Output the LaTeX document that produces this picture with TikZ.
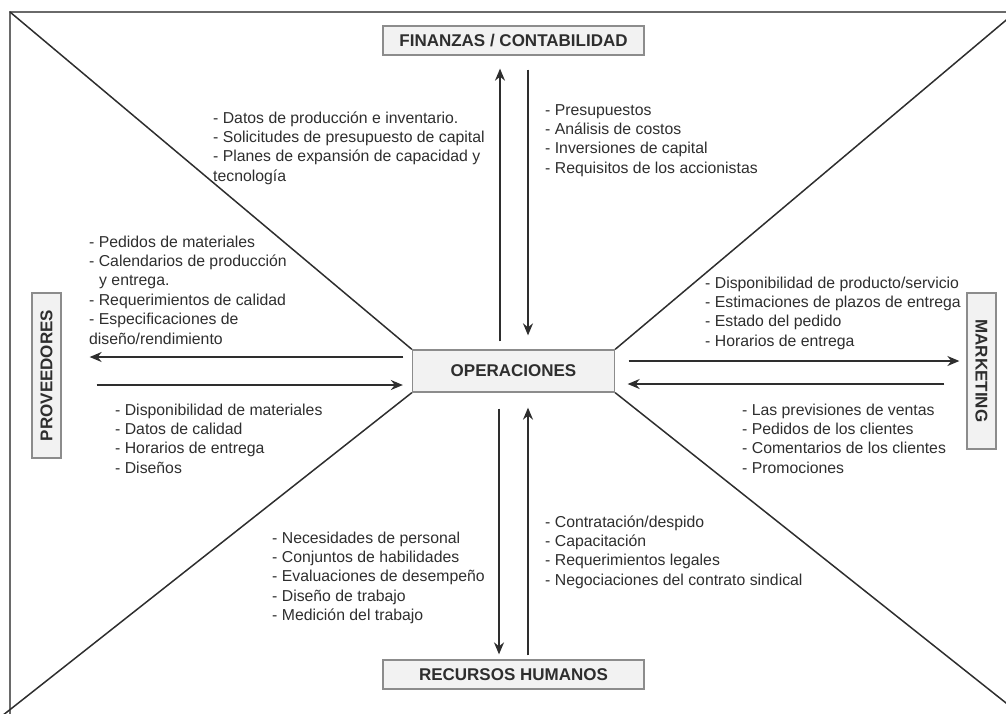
\documentclass[tikz,border=0pt]{standalone}
\usepackage{fontspec}
\setmainfont{Liberation Sans}
\usetikzlibrary{arrows.meta}

\definecolor{ink}{HTML}{2E2E2E}
\definecolor{rim}{HTML}{8C8C8C}
\definecolor{boxfill}{HTML}{F2F2F2}
\definecolor{framegray}{HTML}{6A6A6A}

\tikzset{
  head/.style={draw=rim, fill=boxfill, line width=1.3pt, text=ink,
    font=\fontsize{17}{20}\selectfont\bfseries, inner sep=0pt},
  note/.style={anchor=north west, align=left, inner sep=0pt, text=ink,
    font=\fontsize{15.8}{19.4}\selectfont},
  diag/.style={draw=ink, line width=1.5pt},
  framel/.style={draw=framegray, line width=2pt},
  flow/.style={draw=ink, line width=1.5pt, -{Stealth[length=12pt,width=10pt]}}
}

\begin{document}
\begin{tikzpicture}[x=1pt,y=-1pt]
\useasboundingbox (0,0) rectangle (1006,713);
\clip (0,0) rectangle (1006,713);

% outer frame corners and free ends of the diagonals
\coordinate (ctl) at (10,12);
\coordinate (fbl) at (10,730);
\coordinate (ftr) at (1030,12);
\coordinate (ctr) at (1030,0);
\coordinate (cbr) at (1030,722);
\coordinate (cbl) at (0,717.5);

% central and outer boxes
\node[head, minimum width=202pt, minimum height=42pt] (ops) at (513.5,371) {OPERACIONES};
\node[head, minimum width=261pt, minimum height=29pt] (fin) at (513.5,40.5) {FINANZAS / CONTABILIDAD};
\node[head, minimum width=261pt, minimum height=29pt] (hr) at (513.5,674.5) {RECURSOS HUMANOS};
\node[head, rotate=90, minimum width=165pt, minimum height=29pt] (prov) at (46.5,375.5) {PROVEEDORES};
\node[head, rotate=-90, minimum width=156pt, minimum height=29pt] (mkt) at (981.5,371) {MARKETING};

% frame and diagonals
\draw[framel] (fbl) -- (ctl) -- (ftr);
\draw[diag] (ctl) -- (ops.north west);
\draw[diag] (ctr) -- (ops.north east);
\draw[diag] (cbr) -- (ops.south east);
\draw[diag] (cbl) -- (ops.south west);

% vertical flows
\draw[flow] ([xshift=-13.5pt,yshift=8pt]ops.north) -- ([xshift=-13.5pt,yshift=-13pt]fin.south);
\draw[flow] ([xshift=14.5pt,yshift=-14pt]fin.south) -- ([xshift=14.5pt,yshift=14pt]ops.north);
\draw[flow] ([xshift=-14.5pt,yshift=-16pt]ops.south) -- ([xshift=-14.5pt,yshift=5pt]hr.north);
\draw[flow] ([xshift=14.5pt,yshift=4pt]hr.north) -- ([xshift=14.5pt,yshift=-15pt]ops.south);

% horizontal flows
\draw[flow] ([xshift=-8.5pt,yshift=14pt]ops.west) -- ([xshift=28pt,yshift=18.5pt]prov.south);
\draw[flow] ([xshift=35pt,yshift=-9.5pt]prov.south) -- ([xshift=-9pt,yshift=-14pt]ops.west);
\draw[flow] ([xshift=13.5pt,yshift=10pt]ops.east) -- ([xshift=-7pt,yshift=10pt]mkt.south);
\draw[flow] ([xshift=-22pt,yshift=-13pt]mkt.south) -- ([xshift=12.5pt,yshift=-13pt]ops.east);

% information lists
\node[note] (t1) at (213,109.3) {\strut- Datos de producción e inventario.\\- Solicitudes de presupuesto de capital\\- Planes de expansión de capacidad y\\tecnología};
\node[note] (t2) at (545,101.3) {\strut- Presupuestos\\- Análisis de costos\\- Inversiones de capital\\- Requisitos de los accionistas};
\node[note] (t3) at (89,233.3) {\strut- Pedidos de materiales\\- Calendarios de producción\\\hspace*{10pt}y entrega.\\- Requerimientos de calidad\\- Especificaciones de\\diseño/rendimiento};
\node[note] (t4) at (115,401.3) {\strut- Disponibilidad de materiales\\- Datos de calidad\\- Horarios de entrega\\- Diseños};
\node[note] (t5) at (705,274.3) {\strut- Disponibilidad de producto/servicio\\- Estimaciones de plazos de entrega\\- Estado del pedido\\- Horarios de entrega};
\node[note] (t6) at (742,401.3) {\strut- Las previsiones de ventas\\- Pedidos de los clientes\\- Comentarios de los clientes\\- Promociones};
\node[note] (t7) at (272,529.3) {\strut- Necesidades de personal\\- Conjuntos de habilidades\\- Evaluaciones de desempeño\\- Diseño de trabajo\\- Medición del trabajo};
\node[note] (t8) at (545,513.3) {\strut- Contratación/despido\\- Capacitación\\- Requerimientos legales\\- Negociaciones del contrato sindical};
\end{tikzpicture}
\end{document}
